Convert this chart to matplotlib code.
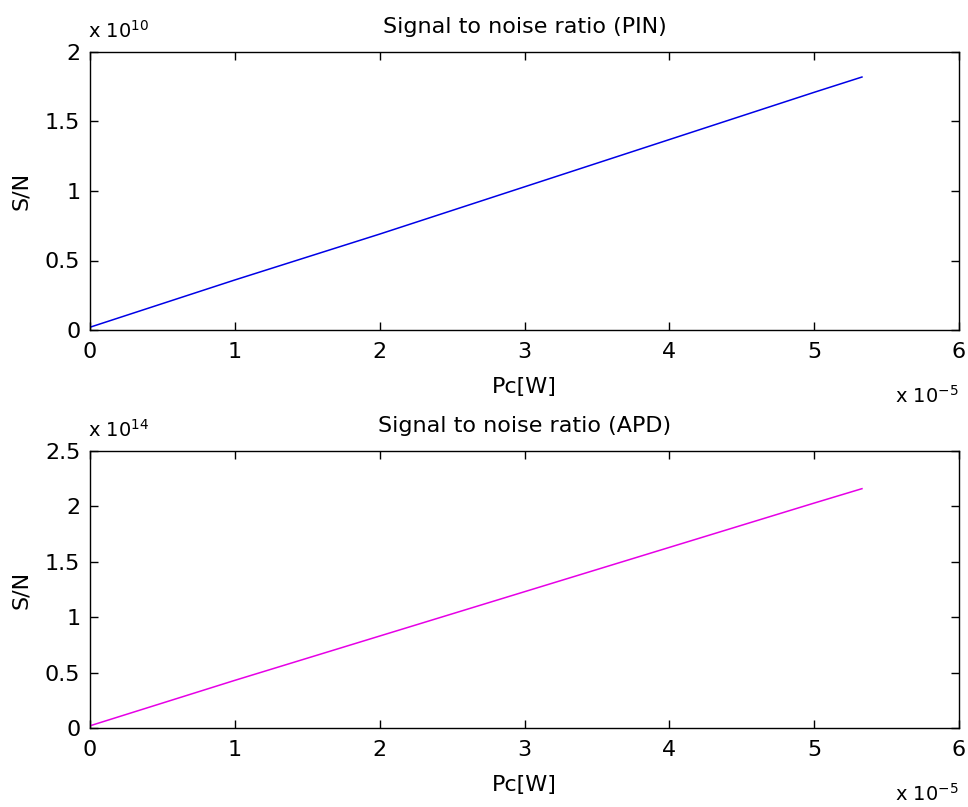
import matplotlib
matplotlib.use("Agg")
import matplotlib.pyplot as plt
from matplotlib.ticker import FuncFormatter, MultipleLocator

plt.rcParams['font.family'] = ['DejaVu Sans']
plt.rcParams['mathtext.fontset'] = 'dejavusans'

# Data
pc = [0.0, 1e-5, 2e-5, 3e-5, 4e-5, 5e-5, 5.33e-5]
snr_pin = [0.02e10, 0.36e10, 0.69e10, 1.03e10, 1.37e10, 1.71e10, 1.82e10]
snr_apd = [0.02e14, 0.43e14, 0.83e14, 1.23e14, 1.63e14, 2.03e14, 2.16e14]

titles = ["Signal to noise ratio (PIN)", "Signal to noise ratio (APD)"]
series = [snr_pin, snr_apd]
colors = ["#0000e6", "#e600e6"]
y_exps = [10, 14]
y_max = [2.0e10, 2.5e14]
x_exp = -5

W, H = 968, 807
fig = plt.figure(figsize=(W / 100, H / 100), dpi=100)
# axes boxes in pixels: (left, top, right, bottom)
boxes = [(90, 52, 959, 330), (90, 451, 959, 728)]
fs = 16

for box, title, ys, col, ye, ym in zip(boxes, titles, series, colors, y_exps, y_max):
    l, t, r, b = box
    ax = fig.add_axes([l / W, 1 - b / H, (r - l) / W, (b - t) / H])
    ax.plot(pc, ys, color=col, lw=1.1)
    ax.set_xlim(0, 6e-5)
    ax.set_ylim(0, ym)
    ax.xaxis.set_major_locator(MultipleLocator(1e-5))
    ax.yaxis.set_major_locator(MultipleLocator(0.5 * 10**ye))
    ax.xaxis.set_major_formatter(FuncFormatter(lambda v, p: f"{v/1e-5:g}"))
    ax.yaxis.set_major_formatter(FuncFormatter(lambda v, p, e=ye: f"{v/10**e:g}"))
    ax.tick_params(direction='in', top=True, right=True, labelsize=fs, length=6, width=1.0)
    ax.tick_params(axis='x', pad=8.5)
    ax.tick_params(axis='y', pad=7)
    for s in ax.spines.values():
        s.set_linewidth(1.0)
    ax.set_title(title, fontsize=fs, pad=13.5)
    ax.set_xlabel("Pc[W]", fontsize=fs, labelpad=11)
    ax.set_ylabel("S/N", fontsize=fs, labelpad=10)
    # exponent labels (MATLAB style)
    ax.text(-2 / (r - l), 1 + 14 / (b - t), r"x 10$^{%d}$" % ye, transform=ax.transAxes,
            fontsize=14, ha='left', va='baseline')
    ax.text(1.0, -73 / (b - t), r"x 10$^{%d}$" % x_exp, transform=ax.transAxes,
            fontsize=14, ha='right', va='baseline')

fig.savefig("out.png", dpi=100)
